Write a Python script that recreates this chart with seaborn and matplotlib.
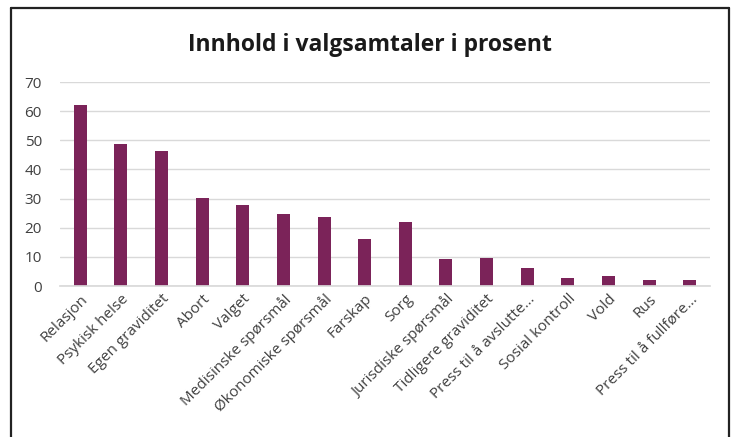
import matplotlib
matplotlib.use("Agg")
import matplotlib.pyplot as plt
import seaborn as sns
import pandas as pd
from matplotlib.lines import Line2D

categories = ["Relasjon", "Psykisk helse", "Egen graviditet", "Abort", "Valget",
              "Medisinske spørsmål", "Økonomiske spørsmål", "Farskap", "Sorg",
              "Jurisdiske spørsmål", "Tidligere graviditet", "Press til å avslutte...",
              "Sosial kontroll", "Vold", "Rus", "Press til å fullføre..."]
values = [62.1, 48.7, 46.3, 30.2, 27.8, 24.7, 23.7, 16.1, 22.0, 9.3, 9.6, 6.2, 2.7, 3.4, 2.0, 2.0]
yticks = [0, 10, 20, 30, 40, 50, 60, 70]
title = "Innhold i valgsamtaler i prosent"

sns.set_theme(style="white")
plt.rcParams['font.family'] = ['Open Sans', 'DejaVu Sans']

df = pd.DataFrame({"cat": categories, "val": values})

fig = plt.figure(figsize=(7.33, 4.37), dpi=100)
ax = fig.add_axes([60/733, 1-286/437, (710-60)/733, (286-82)/437])
sns.barplot(data=df, x="cat", y="val", color="#7B2359", width=0.32,
            saturation=1, ax=ax, edgecolor="none")
ax.set_xlim(-0.5, len(categories) - 0.5)
ax.set_ylim(0, 70)
ax.set_yticks(yticks)
ax.set_yticklabels([str(t) for t in yticks], fontsize=11, color="#404040")
ax.set_xticks(range(len(categories)))
ax.set_xticklabels(categories, rotation=45, ha="right", rotation_mode="anchor",
                   fontsize=11, color="#404040")
ax.tick_params(axis="x", length=0, pad=4)
ax.tick_params(axis="y", length=0, pad=13)
ax.yaxis.grid(True, color="#D9D9D9", linewidth=1)
ax.set_axisbelow(True)
for s in ["top", "right", "left"]:
    ax.spines[s].set_visible(False)
ax.spines["bottom"].set_color("#D9D9D9")
ax.set_xlabel("")
ax.set_ylabel("")

fig.text(370/733, 1-45/437, title, ha="center", va="center",
         fontsize=16.5, fontweight="bold", color="#1a1a1a")

# outer frame (left, top, right)
x0, x1, y0 = 11/733, 729/733, 1-8/437
for xs, ys in [([x0, x0], [0, y0]), ([x0, x1], [y0, y0]), ([x1, x1], [y0, 0])]:
    fig.add_artist(Line2D(xs, ys, color="#222222", linewidth=1.6, transform=fig.transFigure))

fig.savefig("out.png", dpi=100, facecolor="white")
